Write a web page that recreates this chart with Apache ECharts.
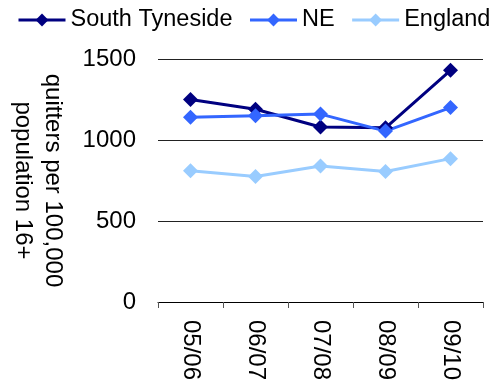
<!DOCTYPE html>
<html>
<head>
<meta charset="utf-8">
<script src="https://cdn.jsdelivr.net/npm/echarts@6/dist/echarts.min.js"></script>
<style>
  html, body { margin: 0; padding: 0; background: #fff; }
  #chart { width: 491px; height: 387px; }
</style>
</head>
<body>
<div id="chart"></div>
<script>
// Smoking quitters per 100,000 population aged 16+, by financial year
const years = ['05/06', '06/07', '07/08', '08/09', '09/10'];
const southTyneside = [1250, 1190, 1080, 1075, 1430];
const northEast = [1140, 1150, 1160, 1055, 1200];
const england = [810, 775, 840, 805, 885];

const FONT = '"Liberation Sans", Arial, sans-serif';

function lineSeries(name, data, color) {
  return {
    name: name,
    type: 'line',
    data: data,
    symbol: 'diamond',
    symbolSize: 15,
    showAllSymbol: true,
    lineStyle: { color: color, width: 3 },
    itemStyle: { color: color, borderWidth: 0 },
    emphasis: { disabled: true },
    animation: false
  };
}

const chart = echarts.init(document.getElementById('chart'));
chart.setOption({
  backgroundColor: '#ffffff',
  animation: false,
  legend: {
    left: 17,
    top: 8,
    width: 560,
    padding: 0,
    itemWidth: 47,
    itemHeight: 16,
    itemGap: 16,
    lineStyle: { width: 3 },
    textStyle: { fontFamily: FONT, fontSize: 23.5, color: '#000' },
    data: ['South Tyneside', 'NE', 'England']
  },
  grid: { left: 157, right: 8, top: 59, bottom: 85 },
  xAxis: {
    type: 'category',
    data: years,
    boundaryGap: true,
    axisLine: { lineStyle: { color: '#000', width: 1 } },
    axisTick: { show: true, length: 6, lineStyle: { color: '#555' } },
    axisLabel: {
      rotate: -90,
      margin: 18,
      fontFamily: FONT,
      fontSize: 24,
      color: '#000'
    }
  },
  yAxis: {
    type: 'value',
    min: 0,
    max: 1500,
    interval: 500,
    name: 'quitters per 100,000\npopulation 16+',
    nameLocation: 'middle',
    nameRotate: -90,
    nameGap: 90,
    nameTextStyle: { fontFamily: FONT, fontSize: 24, color: '#000', lineHeight: 30 },
    axisLine: { show: false },
    axisTick: { show: false },
    splitLine: { lineStyle: { color: '#222', width: 1 } },
    axisLabel: {
      margin: 22,
      fontFamily: FONT,
      fontSize: 24,
      color: '#000',
      formatter: function (v) { return String(v); }
    }
  },
  series: [
    lineSeries('South Tyneside', southTyneside, '#000080'),
    lineSeries('NE', northEast, '#3366ff'),
    lineSeries('England', england, '#99ccff')
  ]
});
</script>
</body>
</html>
